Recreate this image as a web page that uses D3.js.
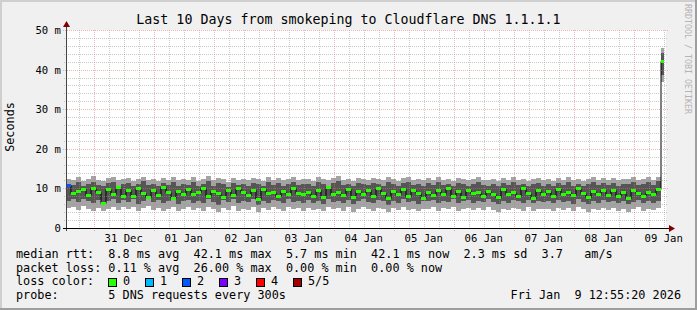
<!DOCTYPE html>
<html><head><meta charset="utf-8">
<script src="https://cdn.jsdelivr.net/npm/d3@7"></script>
<style>
html,body{margin:0;padding:0;background:#fff;}
svg text{font-family:"DejaVu Sans Mono",monospace;white-space:pre;}
</style></head>
<body>
<svg id="c" width="697" height="310"></svg>
<script>
// ---------------- data ----------------
const title = "Last 10 Days from smokeping to Cloudflare DNS 1.1.1.1";
const yLabel = "Seconds";
const startTime = Date.UTC(2025, 11, 30, 12, 55, 20);
const endTime = Date.UTC(2026, 0, 9, 12, 55, 20);
const lastDataTime = Date.UTC(2026, 0, 9, 12, 0, 0);
const binHours = 2;
const yTicks = [0, 10, 20, 30, 40, 50];
const yTickLabels = ["0", "10 m", "20 m", "30 m", "40 m", "50 m"];
const xDayLabels = ["31 Dec","01 Jan","02 Jan","03 Jan","04 Jan","05 Jan","06 Jan","07 Jan","08 Jan","09 Jan"];

// median rtt per 2h bin (ms)
const median = [
 10.8, 8.9, 9.3, 9.9, 8.4, 10.2, 9.0, 6.3, 9.8, 8.7, 10.4, 8.2,
 9.5, 8.1, 10.1, 8.8, 7.9, 9.6, 8.3, 10.3, 9.1, 7.7, 9.4, 8.6,
 9.9, 8.5, 9.2, 10.0, 8.0, 9.3, 8.9, 7.8, 9.7, 8.4, 10.2, 9.0,
 8.3, 9.5, 7.4, 9.8, 8.8, 9.1, 8.2, 9.4, 8.7, 10.0, 8.9, 8.5,
 9.2, 8.0, 9.6, 7.9, 10.3, 8.7, 9.0, 8.3, 9.8, 7.8, 9.4, 8.6,
 9.7, 8.2, 10.1, 8.9, 7.6, 9.3, 8.5, 9.9, 8.1, 9.5, 8.8, 7.5,
 9.0, 8.4, 9.7, 8.6, 10.0, 8.2, 9.3, 7.8, 9.6, 8.9, 9.1, 8.0,
 9.4, 8.7, 7.9, 9.8, 8.5, 9.2, 8.1, 10.1, 8.8, 7.7, 9.5, 8.6,
 9.3, 8.0, 9.9, 8.6, 9.0, 8.3, 10.2, 8.9, 7.8, 9.4, 8.5, 9.6,
 8.4, 9.7, 8.1, 9.0, 7.6, 9.5, 8.8, 8.2, 9.1, 8.7, 9.9, 42.1
];
// smoke: outer high / inner high / inner low / outer low (ms)
const outerHigh = [
 12.4, 12.1, 12.8, 11.9, 12.5, 13.1, 12.2, 11.8, 12.6, 12.9, 12.0, 12.4,
 12.7, 11.9, 12.3, 13.0, 12.1, 12.5, 11.8, 12.6, 12.2, 12.9, 12.0, 12.4,
 12.2, 12.8, 11.9, 12.5, 13.2, 12.0, 12.6, 12.3, 11.7, 12.7, 12.1, 12.5,
 12.0, 12.6, 12.3, 11.8, 12.9, 12.2, 12.7, 12.0, 12.4, 13.0, 12.1, 12.5,
 12.3, 11.9, 12.8, 12.4, 12.0, 12.6, 13.1, 12.2, 12.5, 11.8, 12.7, 12.3,
 12.1, 12.7, 12.4, 12.0, 12.8, 12.3, 11.9, 12.6, 13.0, 12.2, 12.5, 12.0,
 12.6, 12.2, 12.9, 12.1, 12.4, 11.8, 12.7, 12.3, 12.0, 12.5, 12.8, 12.2,
 12.0, 12.4, 11.8, 12.6, 12.2, 12.9, 12.1, 12.5, 11.9, 12.3, 12.7, 12.0,
 12.3, 11.9, 12.6, 12.2, 12.8, 12.0, 12.4, 11.8, 12.5, 12.9, 12.1, 12.6,
 12.2, 12.7, 12.0, 12.5, 12.3, 12.8, 12.1, 12.4, 12.9, 12.2, 13.0, 45.5
];
const innerHigh = [
 11.2, 10.8, 11.5, 10.6, 11.1, 11.7, 10.9, 10.5, 11.3, 11.6, 10.7, 11.0,
 11.4, 10.6, 11.0, 11.8, 10.8, 11.2, 10.5, 11.3, 10.9, 11.6, 10.7, 11.1,
 10.9, 11.5, 10.6, 11.2, 11.9, 10.7, 11.3, 11.0, 10.4, 11.4, 10.8, 11.2,
 10.7, 11.3, 11.0, 10.5, 11.6, 10.9, 11.4, 10.7, 11.1, 11.7, 10.8, 11.2,
 11.0, 10.6, 11.5, 11.1, 10.7, 11.3, 11.8, 10.9, 11.2, 10.5, 11.4, 11.0,
 10.8, 11.4, 11.1, 10.7, 11.5, 11.0, 10.6, 11.3, 11.7, 10.9, 11.2, 10.7,
 11.3, 10.9, 11.6, 10.8, 11.1, 10.5, 11.4, 11.0, 10.7, 11.2, 11.5, 10.9,
 10.7, 11.1, 10.5, 11.3, 10.9, 11.6, 10.8, 11.2, 10.6, 11.0, 11.4, 10.7,
 11.0, 10.6, 11.3, 10.9, 11.5, 10.7, 11.1, 10.5, 11.2, 11.6, 10.8, 11.3,
 10.9, 11.4, 10.7, 11.2, 11.0, 11.5, 10.8, 11.1, 11.6, 10.9, 11.8, 44.2
];
const innerLow = [
 6.9, 7.2, 6.5, 7.4, 6.8, 6.2, 7.0, 5.9, 6.7, 7.3, 6.4, 7.1,
 6.6, 7.3, 6.1, 6.9, 7.5, 6.5, 7.0, 6.3, 6.8, 7.2, 6.0, 6.7,
 7.1, 6.4, 6.9, 6.2, 7.3, 6.6, 5.9, 7.0, 6.5, 7.4, 6.3, 6.8,
 6.5, 7.2, 5.8, 6.9, 6.4, 7.1, 6.7, 6.2, 7.3, 6.6, 6.9, 6.3,
 7.0, 6.4, 6.8, 6.1, 7.2, 6.6, 6.9, 6.3, 7.1, 6.0, 6.7, 7.3,
 6.6, 6.2, 7.0, 6.8, 5.9, 6.9, 6.4, 7.2, 6.5, 6.8, 6.1, 6.7,
 6.8, 7.1, 6.3, 6.9, 6.6, 7.3, 6.2, 6.8, 7.0, 6.4, 6.9, 6.5,
 7.2, 6.5, 6.0, 6.8, 6.4, 7.0, 6.7, 6.3, 7.1, 6.2, 6.8, 6.6,
 6.7, 6.3, 7.0, 6.5, 6.9, 6.1, 7.2, 6.6, 6.0, 6.8, 6.4, 7.0,
 6.5, 6.9, 6.2, 6.8, 6.0, 6.6, 7.1, 6.3, 6.7, 6.4, 6.9, 38.6
];
const outerLow = [
 5.0, 5.4, 4.6, 5.5, 4.9, 4.3, 5.1, 4.2, 4.8, 5.3, 4.5, 5.2,
 4.7, 5.4, 4.3, 5.0, 5.6, 4.6, 5.1, 4.4, 4.9, 5.3, 4.2, 4.8,
 5.2, 4.5, 5.0, 4.3, 5.4, 4.7, 4.1, 5.1, 4.6, 5.5, 4.4, 4.9,
 4.6, 5.3, 4.0, 5.0, 4.5, 5.2, 4.8, 4.3, 5.4, 4.7, 5.0, 4.4,
 5.1, 4.5, 4.9, 4.2, 5.3, 4.7, 5.0, 4.4, 5.2, 4.1, 4.8, 5.4,
 4.7, 4.3, 5.1, 4.9, 4.0, 5.0, 4.5, 5.3, 4.6, 4.9, 4.2, 4.8,
 4.9, 5.2, 4.4, 5.0, 4.7, 5.4, 4.3, 4.9, 5.1, 4.5, 5.0, 4.6,
 5.3, 4.6, 4.1, 4.9, 4.5, 5.1, 4.8, 4.4, 5.2, 4.3, 4.9, 4.7,
 4.8, 4.4, 5.1, 4.6, 5.0, 4.2, 5.3, 4.7, 4.1, 4.9, 4.5, 5.1,
 4.6, 5.0, 4.3, 4.9, 4.1, 4.7, 5.2, 4.4, 4.8, 4.5, 5.0, 36.9
];
// loss class per bin (0..5) — only first bin had loss
const lossClass = [2].concat(new Array(119).fill(0));
const lossColors = ["#26ff00", "#00b8ff", "#0059ff", "#7e00ff", "#ff0000", "#a10000"];
const lossLabels = ["0", "1", "2", "3", "4", "5/5"];
const legendLines = [
 "median rtt:  8.8 ms avg  42.1 ms max  5.7 ms min  42.1 ms now  2.3 ms sd  3.7   am/s",
 "packet loss: 0.11 % avg  26.00 % max  0.00 % min  0.00 % now",
 "loss color:",
 "probe:       5 DNS requests every 300s"
];
const timestampText = "Fri Jan  9 12:55:20 2026";
const watermark = "RRDTOOL / TOBI OETIKER";

// ---------------- drawing ----------------
const W = 697, H = 310;
const svg = d3.select("#c");
const plot = {left: 66, right: 666, top: 30, bottom: 228};

svg.append("rect").attr("width", W).attr("height", H).attr("fill", "#f0f0f0");
svg.append("rect").attr("x", 0).attr("y", 0).attr("width", W).attr("height", 2).attr("fill", "#cfcfcf");
svg.append("rect").attr("x", 0).attr("y", 0).attr("width", 2).attr("height", H).attr("fill", "#cfcfcf");
svg.append("rect").attr("x", 0).attr("y", H - 2).attr("width", W).attr("height", 2).attr("fill", "#9e9e9e");
svg.append("rect").attr("x", W - 2).attr("y", 0).attr("width", 2).attr("height", H).attr("fill", "#9e9e9e");

svg.append("rect").attr("x", plot.left).attr("y", plot.top)
  .attr("width", plot.right - plot.left).attr("height", plot.bottom - plot.top).attr("fill", "#ffffff");

const x = d3.scaleUtc().domain([startTime, endTime]).range([plot.left, plot.right]);
const y = d3.scaleLinear().domain([0, 50]).range([plot.bottom, plot.top]);

const bins = median.map((m, i) => ({
  t: startTime + i * binHours * 3600e3,
  md: m, oh: outerHigh[i], ih: innerHigh[i], il: innerLow[i], ol: outerLow[i], loss: lossClass[i]
}));
bins.forEach(b => { b.t1 = Math.min(b.t + binHours * 3600e3, lastDataTime); });
const pts = bins.concat([Object.assign({}, bins[bins.length - 1], {t: lastDataTime})]);

const g = svg.append("g");
g.append("path").datum(pts)
  .attr("d", d3.area().curve(d3.curveStepAfter).x(d => x(d.t)).y0(d => y(d.ol)).y1(d => y(d.oh)))
  .attr("fill", "#a4a4a4").attr("shape-rendering", "crispEdges");
g.append("path").datum(pts)
  .attr("d", d3.area().curve(d3.curveStepAfter).x(d => x(d.t)).y0(d => y(d.il)).y1(d => y(d.ih)))
  .attr("fill", "#565656").attr("shape-rendering", "crispEdges");

// grid (drawn over graph)
const grid = svg.append("g").attr("shape-rendering", "crispEdges");
const minorCol = "rgba(150,150,150,0.5)";
const majorCol = "rgba(224,110,110,0.5)";
const minorY = d3.range(2, 50.001, 2).filter(v => v % 10 !== 0);
grid.selectAll(".hmin").data(minorY).join("line")
  .attr("x1", plot.left - 2).attr("x2", plot.right + 2)
  .attr("y1", d => Math.round(y(d)) + 0.5).attr("y2", d => Math.round(y(d)) + 0.5)
  .attr("stroke", minorCol).attr("stroke-dasharray", "1,1");
const minorX = d3.utcHour.every(6).range(new Date(startTime), new Date(endTime))
  .filter(d => d.getUTCHours() !== 0);
grid.selectAll(".vmin").data(minorX).join("line")
  .attr("x1", d => Math.round(x(d)) + 0.5).attr("x2", d => Math.round(x(d)) + 0.5)
  .attr("y1", plot.top).attr("y2", plot.bottom + 2)
  .attr("stroke", minorCol).attr("stroke-dasharray", "1,1");
grid.selectAll(".hmaj").data(yTicks.filter(v => v > 0)).join("line")
  .attr("x1", plot.left - 3).attr("x2", plot.right + 3)
  .attr("y1", d => Math.round(y(d)) + 0.5).attr("y2", d => Math.round(y(d)) + 0.5)
  .attr("stroke", majorCol).attr("stroke-dasharray", "1,1");
const majorX = d3.utcDay.range(new Date(startTime), new Date(endTime));
grid.selectAll(".vmaj").data(majorX).join("line")
  .attr("x1", d => Math.round(x(d)) + 0.5).attr("x2", d => Math.round(x(d)) + 0.5)
  .attr("y1", plot.top).attr("y2", plot.bottom + 3)
  .attr("stroke", majorCol).attr("stroke-dasharray", "1,1");

// median line (black step) + loss coloured markers
g.append("path").datum(pts)
  .attr("d", d3.line().curve(d3.curveStepAfter).x(d => x(d.t)).y(d => Math.round(y(d.md)) + 0.5))
  .attr("fill", "none").attr("stroke", "#000").attr("stroke-width", 1);
svg.append("g").selectAll("rect").data(bins).join("rect")
  .attr("x", d => x(d.t)).attr("width", d => x(d.t1) - x(d.t))
  .attr("y", d => Math.round(y(d.md)) - 1).attr("height", 3)
  .attr("fill", d => lossColors[d.loss]).attr("shape-rendering", "crispEdges");

// axes
const ax = svg.append("g").attr("shape-rendering", "crispEdges");
ax.append("line").attr("x1", plot.left + 0.5).attr("x2", plot.left + 0.5)
  .attr("y1", plot.bottom + 3).attr("y2", plot.top - 4).attr("stroke", "#444");
ax.append("line").attr("x1", plot.left - 3).attr("x2", plot.right + 3)
  .attr("y1", plot.bottom + 0.5).attr("y2", plot.bottom + 0.5).attr("stroke", "#000");
svg.append("path")
  .attr("d", `M${plot.left + 0.5},${plot.top - 9} L${plot.left + 4},${plot.top - 3} L${plot.left - 3},${plot.top - 3} Z`)
  .attr("fill", "#7f0000");
svg.append("path")
  .attr("d", `M${plot.right + 9},${plot.bottom + 0.5} L${plot.right + 3},${plot.bottom - 3} L${plot.right + 3},${plot.bottom + 4} Z`)
  .attr("fill", "#7f0000");

svg.append("g").selectAll("text").data(yTicks).join("text")
  .attr("x", plot.left - 5).attr("y", d => y(d) + 4)
  .attr("text-anchor", "end").attr("font-size", "10.6px").attr("fill", "#000")
  .text((d, i) => yTickLabels[i]);

const labelTimes = majorX.map(d => new Date(+d + 12 * 3600e3));
svg.append("g").selectAll("text").data(labelTimes).join("text")
  .attr("x", d => x(d)).attr("y", 241.5)
  .attr("text-anchor", "middle").attr("font-size", "10.6px").attr("fill", "#000")
  .text((d, i) => xDayLabels[i]);

svg.append("text").attr("x", 348.5).attr("y", 24).attr("text-anchor", "middle")
  .attr("font-size", "13.3px").attr("fill", "#000").text(title);

svg.append("text").attr("transform", "translate(14,127) rotate(-90)")
  .attr("text-anchor", "middle").attr("font-size", "11.8px").attr("fill", "#000").text(yLabel);

svg.append("text").attr("transform", "translate(685,4) rotate(90)")
  .attr("font-size", "8.3px").attr("fill", "#b4b4b4").text(watermark);

const legendY = [258, 271.5, 285, 298.5];
svg.append("g").selectAll("text").data(legendLines).join("text")
  .attr("x", 16).attr("y", (d, i) => legendY[i])
  .attr("font-size", "11.8px").attr("fill", "#000").text(d => d);
const lg = svg.append("g").selectAll("g").data(lossColors).join("g");
lg.append("rect").attr("x", (d, i) => 108.5 + i * 37).attr("y", 278.5)
  .attr("width", 8).attr("height", 8).attr("fill", d => d).attr("stroke", "#000");
lg.append("text").attr("x", (d, i) => 123 + i * 37).attr("y", 285)
  .attr("font-size", "11.8px").attr("fill", "#000").text((d, i) => lossLabels[i]);

svg.append("text").attr("x", 681).attr("y", 298.5).attr("text-anchor", "end")
  .attr("font-size", "11.8px").attr("fill", "#000").text(timestampText);
</script>
</body></html>
